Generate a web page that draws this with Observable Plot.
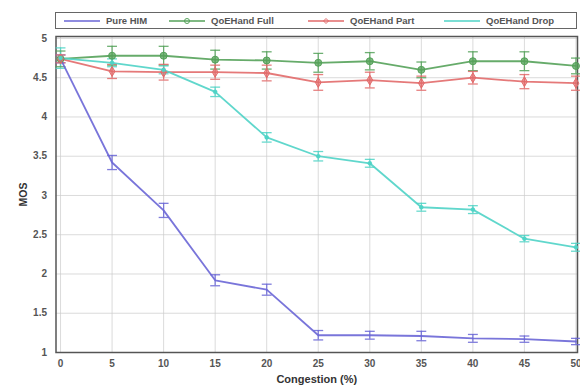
<!DOCTYPE html>
<html>
<head>
<meta charset="utf-8">
<script src="https://cdn.jsdelivr.net/npm/d3@7"></script>
<script src="https://cdn.jsdelivr.net/npm/@observablehq/plot@0.6"></script>
<style>
  html, body { margin: 0; padding: 0; background: #fff; }
  body { width: 580px; height: 385px; overflow: hidden; font-family: "Liberation Sans", Arial, sans-serif; }
  #legend { position: relative; height: 32px; }
  #legend .box { position: absolute; left: 55px; top: 12px; width: 520px; height: 15px; border: 1.2px solid #666; background: #fff; }
  #legend .item { position: absolute; top: 0; height: 15px; display: flex; align-items: center; font-size: 9.5px; font-weight: bold; color: #555; white-space: nowrap; }
  #legend svg { display: block; margin-right: 6px; }
</style>
</head>
<body>
<div id="legend"><div class="box"></div></div>
<div id="chart"></div>
<script>
const congestion = [0, 5, 10, 15, 20, 25, 30, 35, 40, 45, 50];
const seriesNames = ["Pure HIM", "QoEHand Full", "QoEHand Part", "QoEHand Drop"];
const seriesColors = ["#6a66d6", "#55a25a", "#e26a6a", "#4fd3c6"];
const pureHIM      = [4.74, 3.42, 2.81, 1.92, 1.80, 1.22, 1.22, 1.21, 1.18, 1.17, 1.14];
const pureHIMErr   = [0.05, 0.09, 0.09, 0.07, 0.07, 0.06, 0.05, 0.06, 0.05, 0.04, 0.04];
const qoeFull      = [4.74, 4.78, 4.78, 4.73, 4.72, 4.69, 4.71, 4.60, 4.71, 4.71, 4.65];
const qoeFullErr   = [0.10, 0.12, 0.12, 0.12, 0.11, 0.12, 0.11, 0.10, 0.12, 0.12, 0.10];
const qoePart      = [4.74, 4.58, 4.57, 4.57, 4.56, 4.44, 4.47, 4.43, 4.50, 4.45, 4.43];
const qoePartErr   = [0.05, 0.09, 0.10, 0.09, 0.10, 0.10, 0.10, 0.09, 0.08, 0.09, 0.09];
const qoeDrop      = [4.75, 4.69, 4.60, 4.32, 3.74, 3.50, 3.41, 2.85, 2.82, 2.45, 2.34];
const qoeDropErr   = [0.13, 0.05, 0.05, 0.06, 0.06, 0.06, 0.05, 0.05, 0.05, 0.04, 0.05];
const xTicks = [0, 5, 10, 15, 20, 25, 30, 35, 40, 45, 50];
const yTicks = [1, 1.5, 2, 2.5, 3, 3.5, 4, 4.5, 5];
const markers = [null, "circle", "diamond", "dot"];

const allValues = [pureHIM, qoeFull, qoePart, qoeDrop];
const allErrs = [pureHIMErr, qoeFullErr, qoePartErr, qoeDropErr];
const data = [];
seriesNames.forEach((name, si) => {
  congestion.forEach((c, i) => {
    data.push({series: name, x: c, y: allValues[si][i], err: allErrs[si][i], marker: markers[si]});
  });
});
const colorScale = {domain: seriesNames, range: seriesColors};

const plot = Plot.plot({
  width: 580,
  height: 353,
  marginLeft: 55.5,
  marginRight: 3,
  marginTop: 4,
  marginBottom: 33,
  style: {fontFamily: "Liberation Sans, Arial, sans-serif", fontSize: "10px", fontWeight: "bold", color: "#555", background: "#fff"},
  x: {domain: [-0.44, 50.15], ticks: xTicks, tickSize: 0, tickPadding: 7, tickFormat: d => String(d), label: "Congestion (%)", labelAnchor: "center", labelArrow: "none", labelOffset: 30},
  y: {domain: [1, 5.025], ticks: yTicks, tickSize: 0, tickPadding: 9, tickFormat: d => String(d), label: "MOS", labelAnchor: "center", labelArrow: "none", labelOffset: 36},
  color: colorScale,
  marks: [
    Plot.gridX(xTicks, {stroke: "#ccc", strokeOpacity: 0.7, strokeWidth: 1}),
    Plot.gridY(yTicks, {stroke: "#ccc", strokeOpacity: 0.7, strokeWidth: 1}),
    Plot.frame({stroke: "#555", strokeWidth: 1.5}),
    Plot.ruleX(data, {x: "x", y1: d => d.y - d.err, y2: d => d.y + d.err, stroke: "series", strokeWidth: 1.3, strokeOpacity: 0.85}),
    Plot.link(data, {x1: d => d.x - 0.48, x2: d => d.x + 0.48, y1: d => d.y - d.err, y2: d => d.y - d.err, stroke: "series", strokeWidth: 1.3, strokeOpacity: 0.85}),
    Plot.link(data, {x1: d => d.x - 0.48, x2: d => d.x + 0.48, y1: d => d.y + d.err, y2: d => d.y + d.err, stroke: "series", strokeWidth: 1.3, strokeOpacity: 0.85}),
    Plot.line(data, {x: "x", y: "y", z: "series", stroke: "series", strokeWidth: 1.8, strokeOpacity: 0.9}),
    Plot.dot(data.filter(d => d.marker === "circle"), {x: "x", y: "y", r: 3.5, fill: "series", fillOpacity: 0.75, stroke: "series", strokeWidth: 1}),
    Plot.dot(data.filter(d => d.marker === "diamond"), {x: "x", y: "y", r: 3, symbol: "diamond", fill: "series", fillOpacity: 0.6, stroke: "series", strokeWidth: 1}),
    Plot.dot(data.filter(d => d.marker === "dot"), {x: "x", y: "y", r: 2, fill: "series", stroke: "series", strokeWidth: 0.5})
  ]
});
document.getElementById("chart").appendChild(plot);

// axis label styling
d3.select(plot).selectAll("[aria-label='x-axis label'] text").style("font-size", "11px").style("fill", "#333");
d3.select(plot).selectAll("[aria-label='y-axis label'] text").style("font-size", "10.5px").style("fill", "#333");

// legend
const box = document.querySelector("#legend .box");
const positions = [8, 113, 252, 388];
seriesNames.forEach((name, i) => {
  const item = document.createElement("div");
  item.className = "item";
  item.style.left = positions[i] + "px";
  const svg = d3.create("svg").attr("width", 36).attr("height", 10);
  svg.append("line").attr("x1", 0).attr("x2", 36).attr("y1", 5).attr("y2", 5).attr("stroke", seriesColors[i]).attr("stroke-width", 1.3);
  if (markers[i] === "circle") svg.append("circle").attr("cx", 18).attr("cy", 5).attr("r", 2.5).attr("fill", "none").attr("stroke", seriesColors[i]);
  if (markers[i] === "diamond") svg.append("path").attr("d", "M18,2.5L20.5,5L18,7.5L15.5,5Z").attr("fill", "none").attr("stroke", seriesColors[i]);
  item.appendChild(svg.node());
  const span = document.createElement("span");
  span.textContent = name;
  item.appendChild(span);
  box.appendChild(item);
});
</script>
</body>
</html>
